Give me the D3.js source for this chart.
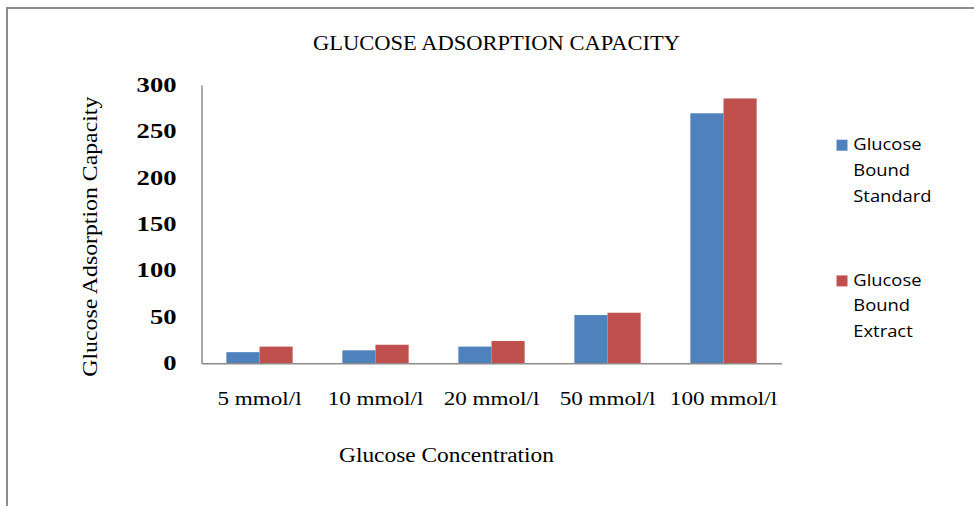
<!DOCTYPE html>
<html>
<head>
<meta charset="utf-8">
<script src="https://cdn.jsdelivr.net/npm/d3@7"></script>
<style>
	body { margin: 0; background: #fff; }
	svg { display: block; }
</style>
</head>
<body>
<svg></svg>
<script>

// DATA

var categories = ["5 mmol/l", "10 mmol/l", "20 mmol/l", "50 mmol/l", "100 mmol/l"]
var series = ["Glucose Bound Standard", "Glucose Bound Extract"]
var standard = [12, 14, 18, 52, 269.5]
var extract = [18, 20, 24, 54.5, 285.5]
var yTicks = [0, 50, 100, 150, 200, 250, 300]

var colors = ["#4f81bd", "#c0504d"]

// vis variables
var width = 974
var height = 506

var svg = d3.select("svg")
	.attr("width", width)
	.attr("height", height)

var plot = { left: 201.5, right: 781.5, top: 85, bottom: 363.3 }

// stretch text horizontally, the picture is wider than its fonts
function stretch(sel, k) {
	sel.each(function() {
		var w = this.getComputedTextLength()
		d3.select(this)
			.attr("textLength", w * k)
			.attr("lengthAdjust", "spacingAndGlyphs")
	})
}

// frame
svg.append("path")
	.attr("d", "M7," + height + "V8H" + width)
	.attr("fill", "none")
	.attr("stroke", "#8c8c8c")
	.attr("stroke-width", 2)

// SCALES

var x0 = d3.scaleBand()
	.domain(categories)
	.range([plot.left, plot.right])

var x1 = d3.scaleBand()
	.domain(series)
	.range([0, x0.bandwidth()])
	.paddingOuter(0.75)

var y = d3.scaleLinear()
	.domain([0, 300])
	.range([plot.bottom, plot.top])

var rows = categories.map(function(c, i) {
	return { cat: c, values: [standard[i], extract[i]] }
})

// BARS

var groups = svg.append("g")
	.attr("class", "bars")
	.selectAll("g")
	.data(rows)
	.enter()
	.append("g")
	.attr("transform", function(d) { return "translate(" + x0(d.cat) + ",0)" })

groups.selectAll("rect")
	.data(function(d) { return d.values.map(function(v, j) { return { s: series[j], v: v, j: j } }) })
	.enter()
	.append("rect")
	.attr("x", function(d) { return x1(d.s) })
	.attr("width", x1.bandwidth())
	.attr("y", function(d) { return y(d.v) })
	.attr("height", function(d) { return y(0) - y(d.v) })
	.attr("fill", function(d) { return colors[d.j] })

// AXES

var serif = "'Liberation Serif', 'Times New Roman', serif"

var yAxis = svg.append("g")
	.attr("transform", "translate(" + plot.left + ",0)")
	.call(d3.axisLeft(y).tickValues(yTicks).tickSize(0).tickPadding(25))

yAxis.select(".domain").attr("stroke", "#8c8c8c").attr("stroke-width", 1.5)
yAxis.selectAll("text")
	.attr("font-family", serif)
	.attr("font-weight", "bold")
	.attr("font-size", 20)
	.attr("fill", "#000")
	.call(stretch, 1.33)

var xAxis = svg.append("g")
	.attr("transform", "translate(0," + plot.bottom + ")")
	.call(d3.axisBottom(x0).tickSize(0).tickSizeOuter(0))

xAxis.select(".domain").attr("stroke", "#8c8c8c").attr("stroke-width", 1.5)
xAxis.selectAll("text")
	.attr("y", 41.7)
	.attr("dy", 0)
	.attr("font-family", serif)
	.attr("font-size", 18.5)
	.attr("fill", "#000")
	.call(stretch, 1.25)

// TITLES

svg.append("text")
	.attr("x", 496.5)
	.attr("y", 50)
	.attr("text-anchor", "middle")
	.attr("font-family", serif)
	.attr("font-size", 20)
	.text("GLUCOSE ADSORPTION CAPACITY")
	.attr("textLength", 367)
	.attr("lengthAdjust", "spacingAndGlyphs")

svg.append("text")
	.attr("transform", "translate(97,236.7) rotate(-90)")
	.attr("text-anchor", "middle")
	.attr("font-family", serif)
	.attr("font-size", 22)
	.text("Glucose Adsorption Capacity")
	.attr("textLength", 280)
	.attr("lengthAdjust", "spacingAndGlyphs")

svg.append("text")
	.attr("x", 446.5)
	.attr("y", 461.5)
	.attr("text-anchor", "middle")
	.attr("font-family", serif)
	.attr("font-size", 20.5)
	.text("Glucose Concentration")
	.attr("textLength", 215)
	.attr("lengthAdjust", "spacingAndGlyphs")

// LEGEND

var legendTop = [150, 285.7]
var lineHeight = 25.8

var legend = svg.append("g")
	.attr("class", "legend")
	.selectAll("g")
	.data(series)
	.enter()
	.append("g")
	.attr("transform", function(d, i) { return "translate(836.5," + legendTop[i] + ")" })

legend.append("rect")
	.attr("y", -10.3)
	.attr("width", 11)
	.attr("height", 11)
	.attr("fill", function(d, i) { return colors[i] })

legend.each(function(d) {
	var g = d3.select(this)
	d.split(" ").forEach(function(word, k) {
		g.append("text")
			.attr("x", 16.8)
			.attr("y", k * lineHeight)
			.attr("font-family", "'Open Sans', 'Noto Sans', sans-serif")
			.attr("font-size", 17)
			.attr("fill", "#000")
			.text(word)
			.call(stretch, 1.08)
	})
})

</script>
</body>
</html>
